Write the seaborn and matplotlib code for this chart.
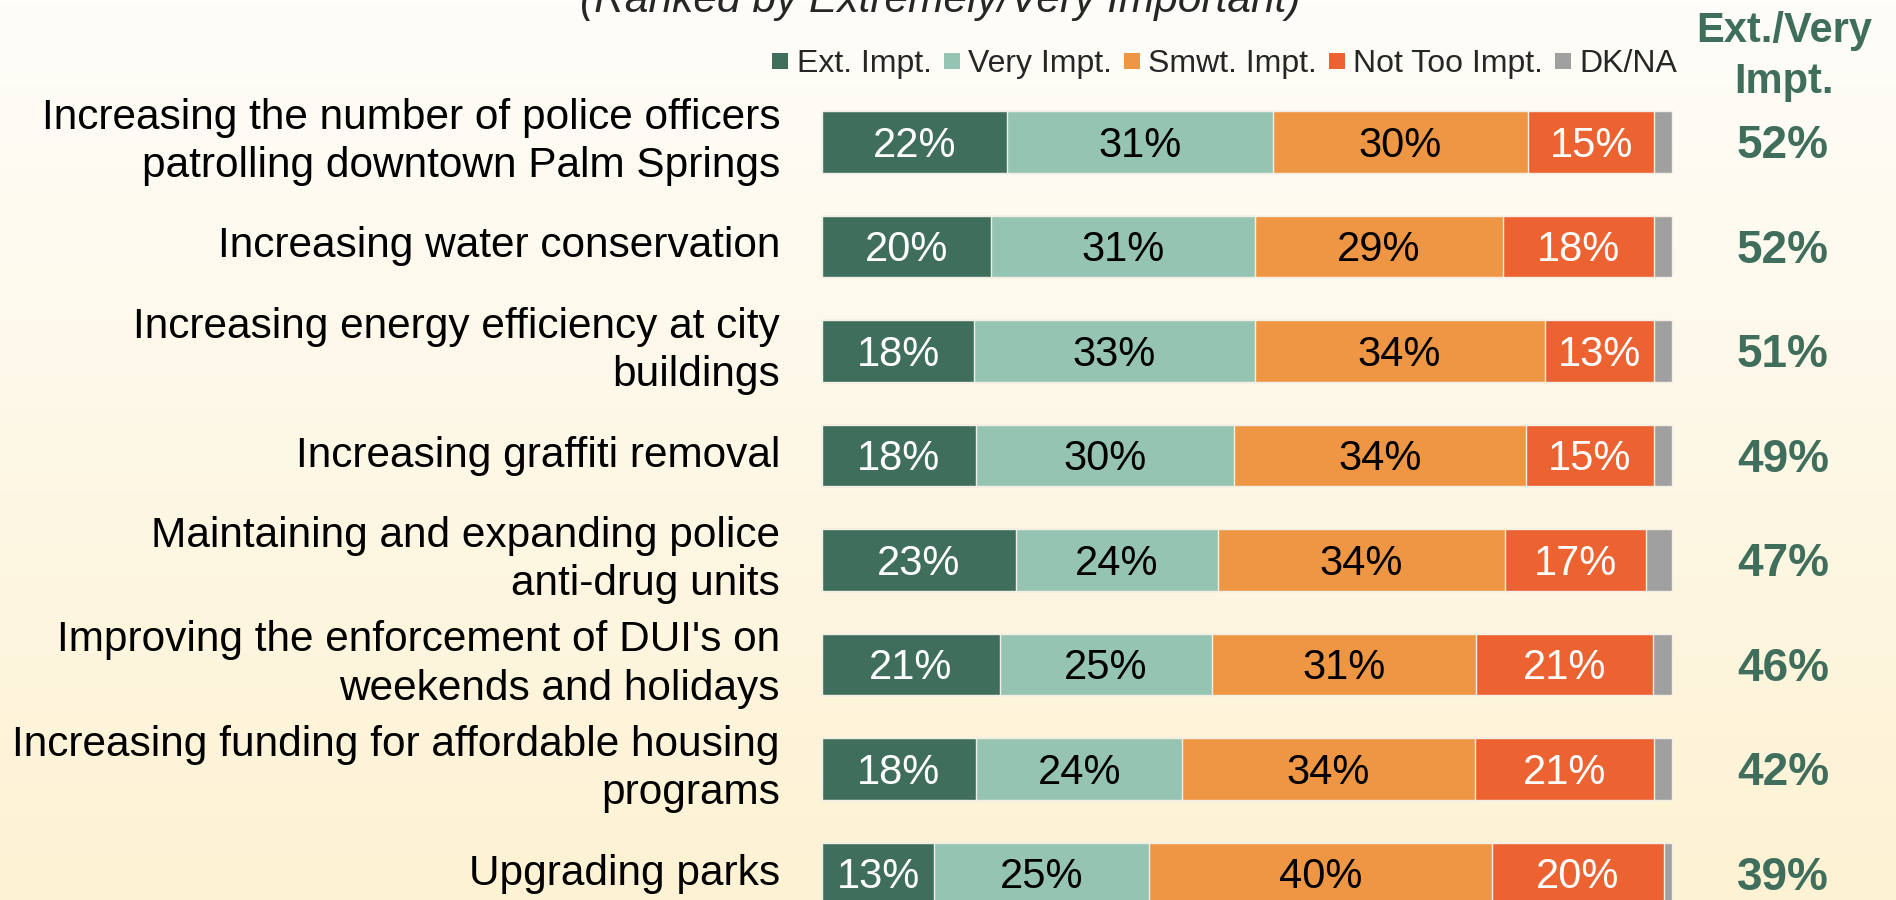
import numpy as np
import pandas as pd
import matplotlib
matplotlib.use("Agg")
import matplotlib.pyplot as plt
from matplotlib.patches import Patch
from matplotlib.colors import LinearSegmentedColormap
import seaborn as sns

items = [
    "Increasing the number of police officers\npatrolling downtown Palm Springs",
    "Increasing water conservation",
    "Increasing energy efficiency at city\nbuildings",
    "Increasing graffiti removal",
    "Maintaining and expanding police\nanti-drug units",
    "Improving the enforcement of DUI's on\nweekends and holidays",
    "Increasing funding for affordable housing\nprograms",
    "Upgrading parks",
]
ext_impt = [21.8, 19.9, 17.9, 18.1, 22.8, 20.9, 18.1, 13.2]
very_impt = [31.2, 31.0, 33.0, 30.4, 23.8, 25.0, 24.3, 25.3]
smwt_impt = [30.1, 29.2, 34.1, 34.3, 33.7, 31.0, 34.4, 40.3]
not_too_impt = [14.8, 17.8, 12.9, 15.1, 16.6, 20.9, 21.1, 20.2]
dk_na = [2.1, 2.1, 2.1, 2.1, 3.1, 2.2, 2.1, 1.0]
ext_very = [52, 52, 51, 49, 47, 46, 42, 39]

series_names = ["Ext. Impt.", "Very Impt.", "Smwt. Impt.", "Not Too Impt.", "DK/NA"]
colors = ["#406E5C", "#95C4B3", "#EF9644", "#EC6231", "#A0A0A0"]
label_colors = ["white", "black", "black", "white", None]
green = "#406E5C"

sns.set_style("white")
plt.rcParams["font.family"] = ["Liberation Sans", "DejaVu Sans"]

df = pd.DataFrame(dict(zip(series_names, [ext_impt, very_impt, smwt_impt, not_too_impt, dk_na])))
df["item"] = items
cum = df[series_names].cumsum(axis=1)

W, H = 1896, 900
fig = plt.figure(figsize=(W / 100, H / 100), dpi=100)

# background gradient
bg = fig.add_axes([0, 0, 1, 1])
grad = np.linspace(0, 1, 256).reshape(-1, 1)
cmap = LinearSegmentedColormap.from_list("bg", ["#FDF2D3", "#FEFDF9"])
bg.imshow(grad, aspect="auto", extent=[0, 1, 0, 1], origin="lower", cmap=cmap)
bg.axis("off")

ax = fig.add_axes([0, 0, 1, 1])

# pixel -> data helpers (bar 0% at x=822px, 100% at 1672px; row 0 at y=142px)
x0, xs = 822, 8.5
y0, ys = 142, 104.5
def xd(px):
    return (px - x0) / xs
def yd(py):
    return (py - y0) / ys

# stacked bars: draw cumulative totals from the back
for name, col in reversed(list(zip(series_names, colors))):
    sns.barplot(x=cum[name].values, y=items, orient="h", color=col,
                saturation=1, width=0.59, errorbar=None,
                edgecolor="#F3EFE6", linewidth=1.0, ax=ax)

ax.set_xlim(xd(0), xd(W))
ax.set_ylim(yd(H), yd(0))
ax.axis("off")

# segment labels
for j, name in enumerate(series_names[:4]):
    for i in range(len(items)):
        v = df[name][i]
        center = cum[name][i] - v / 2
        ax.annotate(f"{v:.0f}%", xy=(center, i), xytext=(0, -10.7),
                    textcoords="offset points", ha="center", va="baseline",
                    color=label_colors[j], fontsize=30)

# category labels
for i, lab in enumerate(items):
    ax.text(xd(780), i, lab, ha="right", va="center", fontsize=30.5,
            linespacing=1.27, color="black")

# Ext./Very column
for i, v in enumerate(ext_very):
    ax.annotate(f"{v}%", xy=(xd(1783), i), xytext=(0, -11.8),
                textcoords="offset points", ha="center", va="baseline",
                color=green, fontsize=33, fontweight="bold")
fig.text(1784 / W, 1 - 42 / H, "Ext./Very", ha="center", va="baseline",
         color=green, fontsize=30, fontweight="bold")
fig.text(1784 / W, 1 - 93 / H, "Impt.", ha="center", va="baseline",
         color=green, fontsize=30, fontweight="bold")

# title (cut at the top in the source)
fig.text(940 / W, 1 - 12 / H, "(Ranked by Extremely/Very Important)",
         ha="center", va="baseline", fontsize=30.6, style="italic")

handles = [Patch(facecolor=c, edgecolor="none") for c in colors]
fig.legend(handles, series_names, loc="center", bbox_to_anchor=(1225 / W, 1 - 64 / H),
           ncol=5, frameon=False, fontsize=23, handlelength=0.5,
           handleheight=0.4, handletextpad=0.26, columnspacing=0.38,
           borderpad=0, borderaxespad=0)

fig.savefig("out.png", dpi=100)
